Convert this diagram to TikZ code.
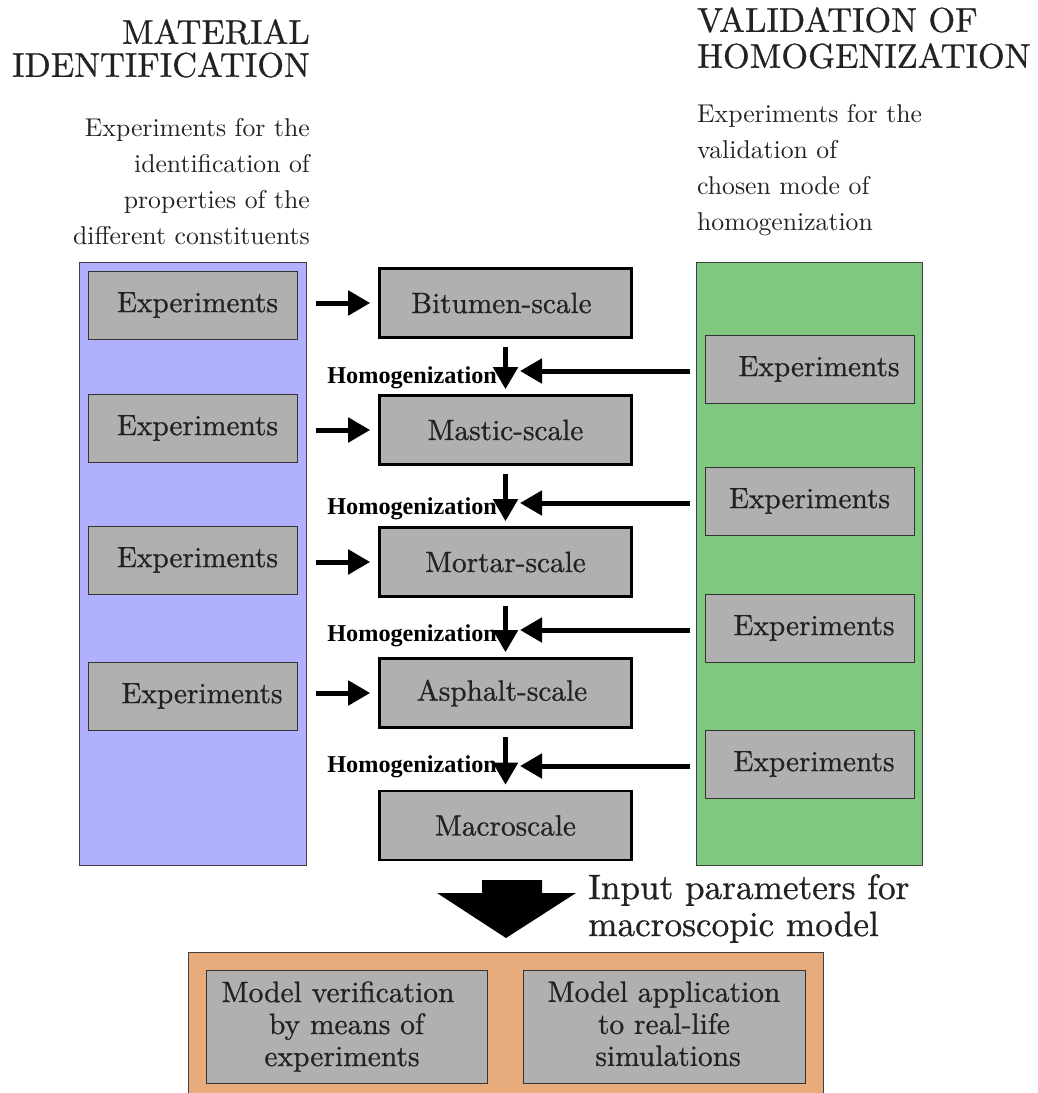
\documentclass[tikz,border=0pt]{standalone}
\usepackage{fontspec}
\usetikzlibrary{arrows.meta}
\setmainfont{lmroman10-regular}[Extension=.otf, BoldFont=lmroman10-bold]
\newfontfamily\boxfont{lmroman10-regular}[Extension=.otf, FakeBold=0.8]
\newfontfamily\hfont{Liberation Serif}
\definecolor{txt}{HTML}{222222}
\definecolor{bluep}{HTML}{B0B0FF}
\definecolor{greenp}{HTML}{80C880}
\definecolor{grayb}{HTML}{B0B0B0}
\definecolor{orangep}{HTML}{E8AC7C}
\begin{document}
\begin{tikzpicture}[x=1pt,y=-1pt,
  panel/.style={draw=black!75, line width=0.8pt, anchor=north west, inner sep=0pt},
  expbox/.style={draw=black!80, line width=0.8pt, fill=grayb, minimum width=209pt, minimum height=68pt, inner sep=0pt, text=txt, font=\boxfont\fontsize{29.3}{32}\selectfont},
  scalebox/.style={draw=black, line width=2.6pt, fill=grayb, minimum width=252pt, minimum height=69pt, inner sep=0pt, text=txt, font=\boxfont\fontsize{29.3}{32}\selectfont},
  bigtitle/.style={text=txt, inner sep=0pt},
  bodytext/.style={text=txt, font=\fontsize{25.7}{36}\selectfont, inner sep=0pt},
  harrow/.style={line width=5pt, -{Triangle[length=22pt,width=24pt]}},
  homlab/.style={font=\hfont\bfseries\fontsize{24.2}{26}\selectfont, inner sep=0pt, anchor=east},
  ]
\useasboundingbox (0,0) rectangle (1038,1093);

% headings
\node[bigtitle, anchor=north east, align=right, font=\boxfont\fontsize{34.4}{33}\selectfont] (t1) at (310,19) {MATERIAL\\IDENTIFICATION};
\node[bigtitle, anchor=north west, align=left, font=\boxfont\fontsize{34.4}{36}\selectfont] (t2) at (697,7) {VALIDATION OF\\HOMOGENIZATION};
\node[bodytext, anchor=north east, align=right] (d1) at (310,118) {Experiments for the\\identification of\\properties of the\\different constituents};
\node[bodytext, anchor=north west, align=left] (d2) at (697,104) {Experiments for the\\validation of\\chosen mode of\\homogenization};

% panels
\node[panel, fill=bluep, minimum width=227pt, minimum height=603pt] (bp) at (79,262) {};
\node[panel, fill=greenp, minimum width=226pt, minimum height=603pt] (gp) at (696,262) {};

% left experiments
\node[expbox] (e1) at (192.5,305) {\hspace*{10pt}Experiments};
\node[expbox] (e2) at (192.5,428) {\hspace*{10pt}Experiments};
\node[expbox] (e3) at (192.5,560) {\hspace*{10pt}Experiments};
\node[expbox] (e4) at (192.5,696) {\hspace*{19pt}Experiments};

% right experiments
\node[expbox] (r1) at (809.5,369) {\hspace*{19pt}Experiments};
\node[expbox] (r2) at (809.5,501) {Experiments};
\node[expbox] (r3) at (809.5,628) {\hspace*{9pt}Experiments};
\node[expbox] (r4) at (809.5,764) {\hspace*{9pt}Experiments};

% scales
\node[scalebox] (s1) at (505.5,303) {Bitumen-scale\hspace*{8pt}};
\node[scalebox] (s2) at (505.5,430) {Mastic-scale};
\node[scalebox] (s3) at (505.5,562) {Mortar-scale};
\node[scalebox] (s4) at (505.5,693) {Asphalt-scale\hspace*{7pt}};
\node[scalebox] (s5) at (505.5,825.5) {Macroscale};

% horizontal arrows into scales
\foreach \a/\b in {e1/s1,e2/s2,e3/s3,e4/s4}{
  \draw[harrow, shorten <=19pt, shorten >=8pt] (\b.west -| \a.east) -- (\b.west);
}
% down arrows
\foreach \a/\b in {s1/s2,s2/s3,s3/s4,s4/s5}{
  \draw[harrow, shorten <=8pt, shorten >=5pt] (\a.south) -- (\b.north);
}
% arrows from validation
\coordinate (h1) at (520,371);
\coordinate (h2) at (520,503);
\coordinate (h3) at (520,630);
\coordinate (h4) at (520,766);
\foreach \h in {h1,h2,h3,h4}{
  \draw[harrow, shorten <=6pt] (gp.west |- \h) -- (\h);
}
% homogenization labels
\node[homlab] (m1) at (497,378) {Homogenization};
\node[homlab] (m2) at (497,509) {Homogenization};
\node[homlab] (m3) at (497,636) {Homogenization};
\node[homlab] (m4) at (497,767) {Homogenization};

% big arrow
\fill[black] (482,880) -- (542,880) -- (542,893) -- (576,893) -- (506,938) -- (437,893) -- (482,893) -- cycle;
\node[text=txt, font=\boxfont\fontsize{35.2}{37}\selectfont, anchor=north west, align=left, inner sep=0pt] (ip) at (588,874) {Input parameters for\\macroscopic model};

% bottom
\node[panel, fill=orangep, minimum width=635pt, minimum height=145pt] (op) at (188,952) {};
\node[expbox, minimum width=281pt, minimum height=113pt, align=center, font=\boxfont\fontsize{29.5}{32}\selectfont] (v1) at (346.5,1026.5) {Model verification\hspace*{17pt}\\by means of\hspace*{6pt}\\experiments\hspace*{9pt}};
\node[expbox, minimum width=282pt, minimum height=113pt, align=center, font=\boxfont\fontsize{29.5}{32}\selectfont] (v2) at (664,1026.5) {Model application\\to real-life\\\hspace*{8pt}simulations\vphantom{p}};
\end{tikzpicture}
\end{document}
